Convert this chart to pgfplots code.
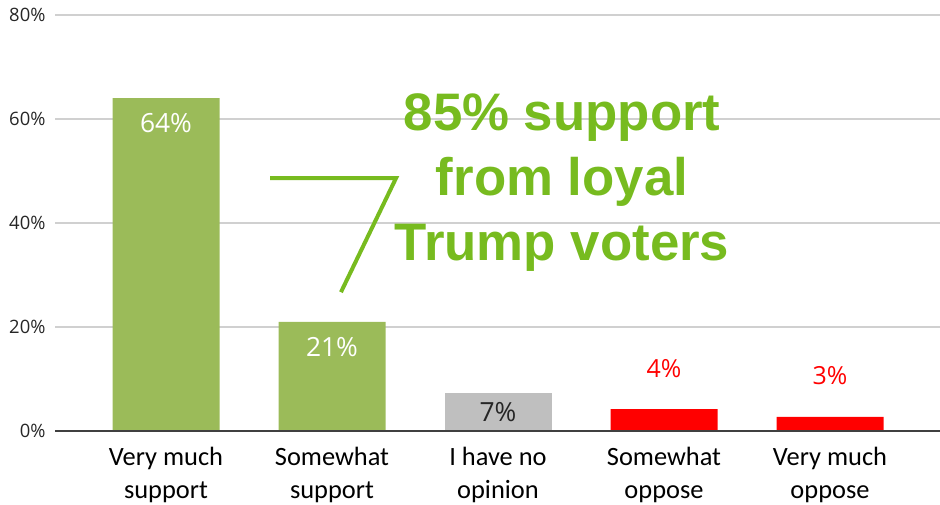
\documentclass[border=0pt]{standalone}
\usepackage{pgfplots}
\pgfplotsset{compat=1.18}
\usepackage{fontspec}
\setmainfont{Carlito}
\newfontfamily\osans{Open Sans}
\newfontfamily\arial{Liberation Sans}
\definecolor{barGreen}{HTML}{9BBB59}
\definecolor{barGray}{HTML}{BFBFBF}
\definecolor{annGreen}{RGB}{119,187,31}
\definecolor{gridGray}{HTML}{D0D0D0}
\definecolor{axisGray}{HTML}{404040}
\begin{document}
\begin{tikzpicture}
\useasboundingbox (0,0) rectangle (940bp,505bp);
\begin{axis}[
  at={(55bp,74bp)}, anchor=south west,
  scale only axis, width=885bp, height=416bp,
  xmin=-0.6687, xmax=4.6627, ymin=0, ymax=80,
  ybar, bar width=107bp, bar shift=0pt,
  axis line style={draw=none},
  ytick={0,20,40,60,80},
  yticklabels={0\%,20\%,40\%,60\%,80\%},
  ymajorgrids, grid style={gridGray, line width=1.3bp},
  major tick length=0pt,
  xtick={0,1,2,3,4},
  xticklabels={{Very much\\support},{Somewhat\\support},{I have no\\opinion},{Somewhat\\oppose},{Very much\\oppose}},
  xticklabel style={align=center, font=\fontsize{26.5}{33}\selectfont, text=black, yshift=-13bp},
  yticklabel style={font=\osans\fontsize{18.5}{22}\selectfont, text=black!85, xshift=-6bp},
  clip=false,
]
\addplot[fill=barGreen, draw=none, nodes near coords, point meta=explicit symbolic,
  nodes near coords style={font=\osans\fontsize{26.5}{30}\selectfont, text=white, anchor=center, yshift=-25bp}]
  coordinates {(0,64.0) [64\%] (1,21.0) [21\%]};
\addplot[fill=barGray, draw=none, nodes near coords, point meta=explicit symbolic,
  nodes near coords style={font=\osans\fontsize{26.5}{30}\selectfont, text=black!85, anchor=center, yshift=-19bp}]
  coordinates {(2,7.3) [7\%]};
\addplot[fill=red, draw=none, nodes near coords, point meta=explicit symbolic,
  nodes near coords style={font=\osans\fontsize{25}{30}\selectfont, text=red, anchor=center, yshift=41bp}]
  coordinates {(3,4.2) [4\%] (4,2.7) [3\%]};
\draw[axisGray, line width=1.3bp] (axis cs:-0.6687,0) -- (axis cs:4.6627,0);
\draw[annGreen, line width=4bp, line join=miter] (axis cs:0.627,48.65) -- (axis cs:1.386,48.65) -- (axis cs:1.054,26.7);
\node[annGreen, font=\arial\bfseries\fontsize{53}{65}\selectfont, anchor=base, inner sep=0pt] at (axis cs:2.386,57.88) {85\% support};
\node[annGreen, font=\arial\bfseries\fontsize{53}{65}\selectfont, anchor=base, inner sep=0pt] at (axis cs:2.386,45.38) {from loyal};
\node[annGreen, font=\arial\bfseries\fontsize{53}{65}\selectfont, anchor=base, inner sep=0pt] at (axis cs:2.386,32.88) {Trump voters};
\end{axis}
\end{tikzpicture}
\end{document}
